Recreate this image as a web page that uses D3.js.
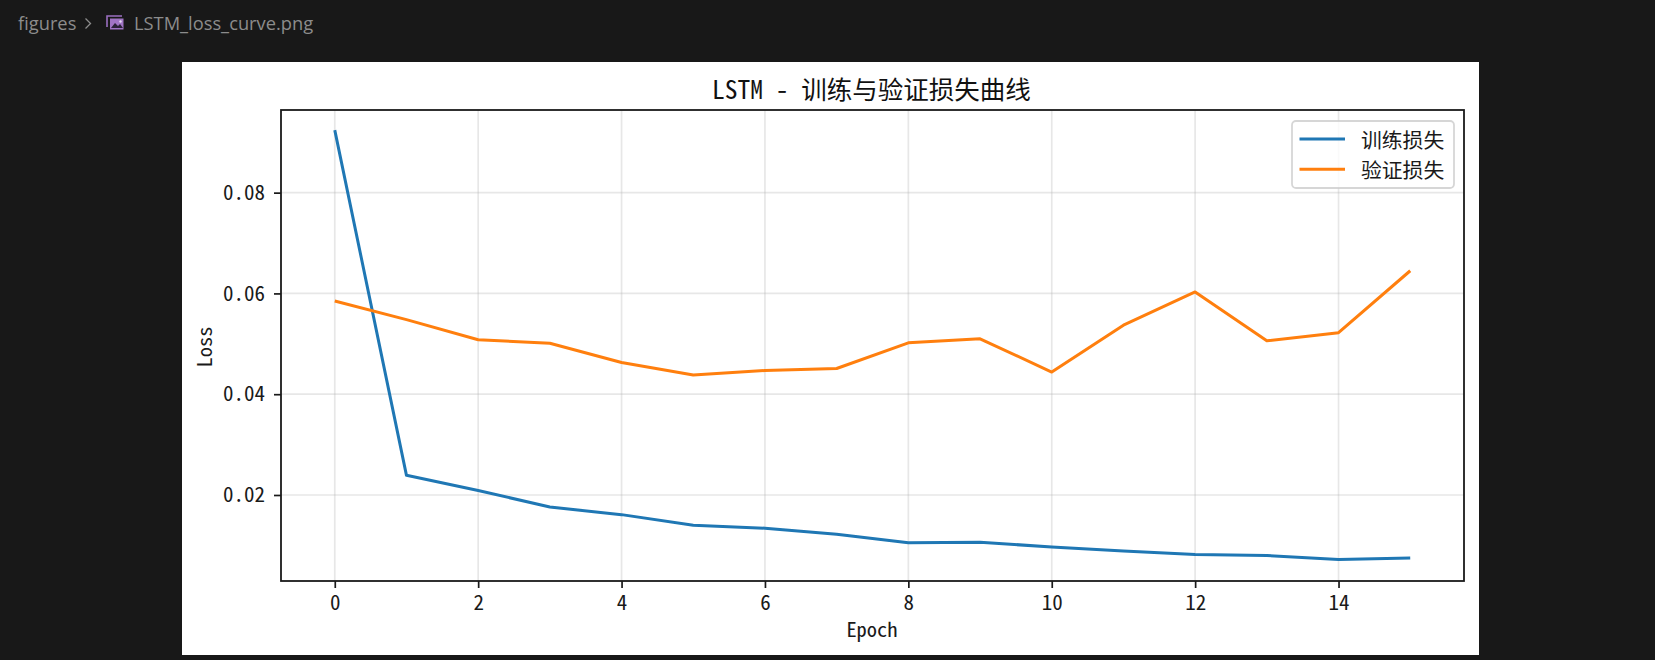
<!DOCTYPE html>
<html>
<head>
<meta charset="utf-8">
<style>
html,body{margin:0;padding:0;background:#181818;overflow:hidden}
svg{display:block}
text{font-family:"Noto Sans Mono CJK SC","Noto Sans CJK SC",sans-serif}
</style>
<script src="https://cdn.jsdelivr.net/npm/d3@7/dist/d3.min.js"></script>
</head>
<body>
<svg id="c" width="1655" height="660"></svg>
<script>
const epochs = [0,1,2,3,4,5,6,7,8,9,10,11,12,13,14,15];
const trainLoss = [0.0924,0.0239,0.0209,0.0176,0.0161,0.0140,0.0134,0.0122,0.0105,0.0106,0.0097,0.0089,0.0082,0.0080,0.0072,0.0075];
const valLoss = [0.0585,0.0548,0.0508,0.0501,0.0463,0.0438,0.0447,0.0451,0.0502,0.0510,0.0444,0.0537,0.0603,0.0506,0.0522,0.0645];
const xTicks = [0,2,4,6,8,10,12,14];
const yTicks = [0.02,0.04,0.06,0.08];
const seriesNames = ["训练损失","验证损失"];
const seriesColors = ["#1f77b4","#ff7f0e"];
const titleText = "LSTM - 训练与验证损失曲线";
const xLabel = "Epoch";
const yLabel = "Loss";
const crumbs = ["figures","LSTM_loss_curve.png"];

const svg = d3.select("#c");
const L=281,R=1464,T=110,B=581;
const x = d3.scaleLinear().domain([-0.75,15.75]).range([L,R]);
const y = d3.scaleLinear().domain([0.00293,0.0964]).range([B,T]);

// editor breadcrumb
svg.append("text").attr("x",18).attr("y",30).text(crumbs[0])
  .style("font-family","'Open Sans',sans-serif").style("font-size","18.3px").attr("fill","#8c8c8c");
svg.append("path").attr("d","M85.5 18.5l5 5-5 5").attr("fill","none").attr("stroke","#8c8c8c").attr("stroke-width",1.3);
const ic = svg.append("g");
ic.append("path").attr("d","M107 27V16h15").attr("fill","none").attr("stroke","#9a6fc0").attr("stroke-width",1.6);
ic.append("rect").attr("x",110).attr("y",18.5).attr("width",13.5).attr("height",11).attr("fill","#a074c4");
ic.append("path").attr("d","M111 28l4-5 3 3 2-2 3 4z").attr("fill","#2b2238");
ic.append("circle").attr("cx",120.5).attr("cy",21.5).attr("r",1.2).attr("fill","#e6dcf2");
svg.append("text").attr("x",134).attr("y",30).text(crumbs[1])
  .style("font-family","'Open Sans',sans-serif").style("font-size","18.3px").attr("fill","#8c8c8c");

// figure panel
svg.append("rect").attr("x",182).attr("y",62).attr("width",1297).attr("height",593).attr("fill","#fff");

// grid
const grid = svg.append("g").attr("stroke","#b0b0b0").attr("stroke-opacity",0.3).attr("stroke-width",1.7);
grid.selectAll(".gx").data(xTicks).join("line").attr("x1",d=>x(d)).attr("x2",d=>x(d)).attr("y1",T).attr("y2",B);
grid.selectAll(".gy").data(yTicks).join("line").attr("x1",L).attr("x2",R).attr("y1",d=>y(d)).attr("y2",d=>y(d));

// lines
const line = d3.line().x((d,i)=>x(epochs[i])).y(d=>y(d));
[trainLoss,valLoss].forEach((s,i)=>{
  svg.append("path").attr("d",line(s)).attr("fill","none").attr("stroke",seriesColors[i])
    .attr("stroke-width",3).attr("stroke-linejoin","round").attr("stroke-linecap","butt");
});

// axes
const gx = svg.append("g").attr("transform",`translate(0,${B})`)
  .call(d3.axisBottom(x).tickValues(xTicks).tickSize(7).tickPadding(7).tickFormat(d3.format("d")));
const gy = svg.append("g").attr("transform",`translate(${L},0)`)
  .call(d3.axisLeft(y).tickValues(yTicks).tickSize(7).tickPadding(9).tickFormat(d3.format(".2f")));
[gx,gy].forEach(g=>{
  g.selectAll("text").style("font-size","21px").attr("fill","#1a1a1a");
  g.selectAll("line").attr("stroke","#1a1a1a").attr("stroke-width",1.7);
  g.select(".domain").remove();
});
svg.append("rect").attr("x",L).attr("y",T).attr("width",R-L).attr("height",B-T)
  .attr("fill","none").attr("stroke","#1a1a1a").attr("stroke-width",1.8);

// labels
svg.append("text").attr("x",871.5).attr("y",99).attr("text-anchor","middle").text(titleText)
  .style("font-size","25.5px").attr("fill","#111");
svg.append("text").attr("x",872).attr("y",637).attr("text-anchor","middle").text(xLabel)
  .style("font-size","20.5px").attr("fill","#1a1a1a");
svg.append("text").attr("transform","translate(212,347) rotate(-90)").attr("text-anchor","middle").text(yLabel)
  .style("font-size","20.5px").attr("fill","#1a1a1a");

// legend
svg.append("rect").attr("x",1292).attr("y",121).attr("width",162).attr("height",67).attr("rx",4)
  .attr("fill","#fff").attr("fill-opacity",0.8).attr("stroke","#cccccc").attr("stroke-opacity",0.8).attr("stroke-width",1.8);
seriesNames.forEach((n,i)=>{
  const yy = 139 + i*30.3;
  svg.append("line").attr("x1",1299.5).attr("x2",1345).attr("y1",yy).attr("y2",yy)
    .attr("stroke",seriesColors[i]).attr("stroke-width",3);
  svg.append("text").attr("x",1361).attr("y",yy+9).text(n).style("font-size","20.8px").attr("fill","#1a1a1a");
});
</script>
</body>
</html>
